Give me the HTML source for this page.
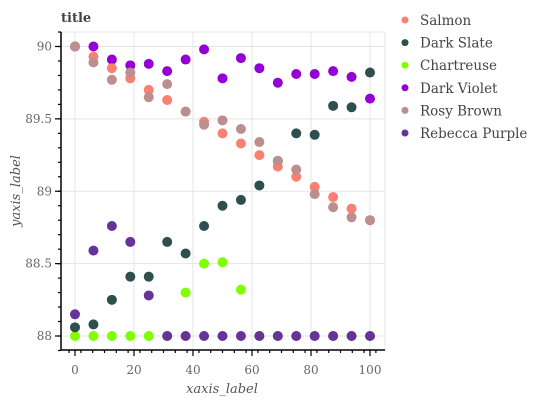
<!DOCTYPE html>
<html><head><meta charset="utf-8"><style>
html,body{margin:0;padding:0;background:#fff;}
svg{display:block;font-family:"DejaVu Serif","Liberation Serif",serif;}
</style></head><body>
<svg id="chart" width="549" height="400" xmlns="http://www.w3.org/2000/svg">
<text x="61" y="22" font-size="13" font-weight="bold" fill="#444">title</text>
<g id="grid"></g>
<g id="points"></g>
<g id="axes"></g>
<g id="legend"></g>
<text x="222" y="393" font-size="13" font-style="italic" fill="#555" text-anchor="middle">xaxis_label</text>
<text transform="translate(20,191) rotate(-90)" font-size="13" font-style="italic" fill="#555" text-anchor="middle">yaxis_label</text>
</svg>
<script>
const xs = [0,6.25,12.5,18.75,25,31.25,37.5,43.75,50,56.25,62.5,68.75,75,81.25,87.5,93.75,100];
const salmon = [90,89.93,89.85,89.78,89.70,89.63,89.55,89.48,89.40,89.33,89.25,89.17,89.10,89.03,88.96,88.88,88.80];
const darkSlate = [88.06,88.08,88.25,88.41,88.41,88.65,88.57,88.76,88.90,88.94,89.04,89.21,89.40,89.39,89.59,89.58,89.82];
const chartreuse = [88,88,88,88,88,88,88.30,88.50,88.51,88.32,88,88,88,88,88,88,88];
const darkViolet = [90,90,89.91,89.87,89.88,89.83,89.91,89.98,89.78,89.92,89.85,89.75,89.81,89.81,89.83,89.79,89.64];
const rosyBrown = [90,89.89,89.77,89.82,89.65,89.74,89.55,89.46,89.49,89.43,89.34,89.21,89.15,88.98,88.89,88.82,88.80];
const rebeccaPurple = [88.15,88.59,88.76,88.65,88.28,88,88,88,88,88,88,88,88,88,88,88,88];
const xTicks = [0,20,40,60,80,100];
const yTicks = [88,88.5,89,89.5,90];
const yTickLabels = ["88","88.5","89","89.5","90"];
const legendNames = ["Salmon","Dark Slate","Chartreuse","Dark Violet","Rosy Brown","Rebecca Purple"];
const legendColors = ["#fa8072","#2f4f4f","#7fff00","#9400d3","#bc8f8f","#663399"];

const NS="http://www.w3.org/2000/svg";
const L=61,R=385,T=32,B=350;
function sx(v){return 75+v*2.95;}
function sy(v){return 336-(v-88)*144.75;}
function mk(tag,attrs,parent){const e=document.createElementNS(NS,tag);for(const k in attrs)e.setAttribute(k,attrs[k]);parent.appendChild(e);return e;}
const grid=document.getElementById('grid'),axes=document.getElementById('axes'),pts=document.getElementById('points'),leg=document.getElementById('legend');
const frame=mk('rect',{x:L,y:T,width:R-L,height:B-T,fill:'none',stroke:'#e5e5e5'},grid);


xTicks.forEach(t=>{const l=mk('line',{x1:sx(t),x2:sx(t),y1:T,y2:B,stroke:'#e5e5e5'},grid);


const tk=mk('line',{x1:sx(t),x2:sx(t),y1:B,y2:B+6,stroke:'#000','stroke-width':1.2},axes);


const tx=mk('text',{x:sx(t),y:B+24,'font-size':12,fill:'#666','text-anchor':'middle'},axes);tx.textContent=t;

});
for(let v=-2;v<=104;v+=4){if(v%20===0)continue;const m=mk('line',{x1:sx(v),x2:sx(v),y1:B,y2:B+3,stroke:'#000','stroke-width':1.2},axes);

}
yTicks.forEach((t,i)=>{const l=mk('line',{x1:L,x2:R,y1:sy(t),y2:sy(t),stroke:'#e5e5e5'},grid);


const tk=mk('line',{x1:L-6,x2:L,y1:sy(t),y2:sy(t),stroke:'#000','stroke-width':1.2},axes);


const tx=mk('text',{x:L-9,y:sy(t)+4,'font-size':12,fill:'#666','text-anchor':'end'},axes);tx.textContent=yTickLabels[i];

});
for(let v=87.9;v<=90.11;v+=0.1){const m=mk('line',{x1:L-3,x2:L,y1:sy(v),y2:sy(v),stroke:'#000','stroke-width':1.2},axes);

}
const xa=mk('line',{x1:L,x2:R,y1:B,y2:B,stroke:'#000','stroke-width':1.5},axes);


const ya=mk('line',{x1:L,x2:L,y1:T,y2:B,stroke:'#000','stroke-width':1.5},axes);


const order=[[chartreuse,2,'chartreuse'],[rebeccaPurple,5,'rebecca-purple'],[darkSlate,1,'dark-slate'],[darkViolet,3,'dark-violet'],[salmon,0,'salmon'],[rosyBrown,4,'rosy-brown']];
order.forEach(([arr,ci,nm])=>{arr.forEach((v,i)=>{const c=mk('circle',{cx:sx(xs[i]),cy:sy(v),r:5,fill:legendColors[ci]},pts);

});});
legendNames.forEach((n,i)=>{const y=20+i*22.6;const c=mk('circle',{cx:405,cy:y,r:3.5,fill:legendColors[i]},leg);


const t=mk('text',{x:420,y:y+5,'font-size':13.5,fill:'#444'},leg);t.textContent=n;

});
</script>
</body></html>
